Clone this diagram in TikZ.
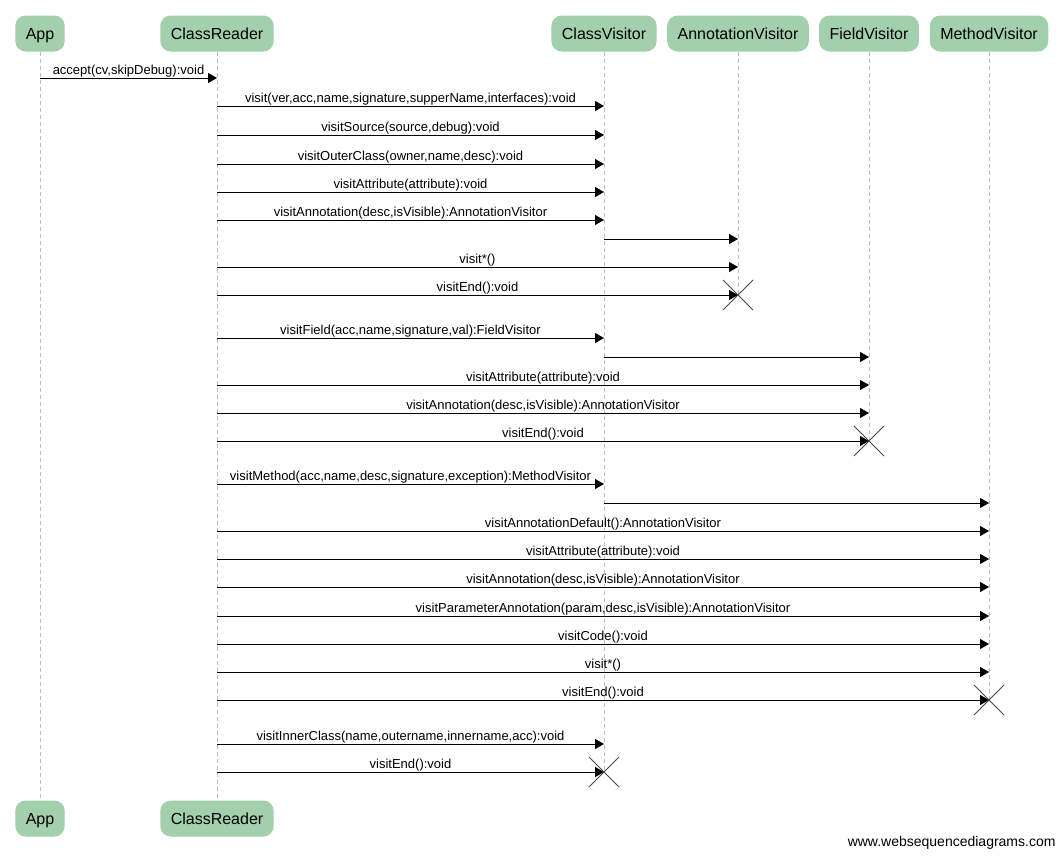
\documentclass[tikz,border=0pt]{standalone}
\usepackage{fontspec}
\setmainfont{Liberation Sans}
\usetikzlibrary{arrows.meta}
\definecolor{boxgreen}{RGB}{162,208,172}
\definecolor{lifegray}{RGB}{190,190,190}
\definecolor{killgray}{RGB}{70,70,70}
\begin{document}
\begin{tikzpicture}[x=1pt,y=-1pt,line width=1pt,line join=bevel,>={Triangle[length=9pt,width=10pt]},
	actor/.style={fill=boxgreen,draw=boxgreen,rounded corners=10pt,minimum height=35pt,inner xsep=10pt,inner ysep=0pt,text height=13.5pt,text depth=2.5pt,font=\fontsize{16}{19}\selectfont},
	life/.style={draw=lifegray,line width=0.8pt,dash pattern=on 4pt off 3pt},
	msg/.style={->,line width=0.9pt},
	lbl/.style={above,inner sep=0pt,font=\fontsize{13}{15}\selectfont},
	kill/.style={draw=killgray,line width=0.9pt}]
	\useasboundingbox (0,0) rectangle (1064,860);
	%acteurs
	\foreach \Nom/\X/\Txt in {app/40/App,reader/217/ClassReader,cv/604/ClassVisitor,av/738/AnnotationVisitor,fv/869/FieldVisitor,mv/989/MethodVisitor}
	\node[actor] (\Nom) at (\X,33.5) {\Txt} ;
	\node[actor] (app-b) at (40,818.5) {App} ;
	\node[actor] (reader-b) at (217,818.5) {ClassReader} ;
	%fins
	\coordinate (cv-x) at (604,772) ;
	\coordinate (av-x) at (738,295) ;
	\coordinate (fv-x) at (869,441) ;
	\coordinate (mv-x) at (989,700) ;
	%lignes de vie
	\draw[life] (app.south)--(app-b.north) ;
	\draw[life] (reader.south)--(reader-b.north) ;
	\foreach \Nom in {cv,av,fv,mv}
	\draw[life] (\Nom.south)--(\Nom-x) ;
	%messages
	\foreach \Y/\De/\A/\Txt in {78/app/reader/{accept(cv,skipDebug):void},
		106/reader/cv/{visit(ver,acc,name,signature,supperName,interfaces):void},
		135/reader/cv/{visitSource(source,debug):void},
		164/reader/cv/{visitOuterClass(owner,name,desc):void},
		192/reader/cv/{visitAttribute(attribute):void},
		220/reader/cv/{visitAnnotation(desc,isVisible):AnnotationVisitor},
		239/cv/av/{},
		267/reader/av/{visit*()},
		295/reader/av/{visitEnd():void},
		338/reader/cv/{visitField(acc,name,signature,val):FieldVisitor},
		357/cv/fv/{},
		385/reader/fv/{visitAttribute(attribute):void},
		413/reader/fv/{visitAnnotation(desc,isVisible):AnnotationVisitor},
		441/reader/fv/{visitEnd():void},
		484/reader/cv/{visitMethod(acc,name,desc,signature,exception):MethodVisitor},
		503/cv/mv/{},
		531/reader/mv/{visitAnnotationDefault():AnnotationVisitor},
		559/reader/mv/{visitAttribute(attribute):void},
		587/reader/mv/{visitAnnotation(desc,isVisible):AnnotationVisitor},
		616/reader/mv/{visitParameterAnnotation(param,desc,isVisible):AnnotationVisitor},
		644/reader/mv/{visitCode():void},
		672/reader/mv/{visit*()},
		700/reader/mv/{visitEnd():void},
		744/reader/cv/{visitInnerClass(name,outername,innername,acc):void},
		772/reader/cv/{visitEnd():void}}
	\draw[msg] (\De |- 0,\Y)--(\A |- 0,\Y) node[lbl,midway] {\Txt} ;
	%destructions
	\foreach \Nom in {cv,av,fv,mv}
	\draw[kill] (\Nom-x) ++(-15,-15)--++(30,30) (\Nom-x) ++(-15,15)--++(30,-30) ;
	%pied
	\node[anchor=east,inner sep=0pt,font=\fontsize{14}{16}\selectfont] (credit) at (1056,843) {www.websequencediagrams.com} ;
\end{tikzpicture}
\end{document}
